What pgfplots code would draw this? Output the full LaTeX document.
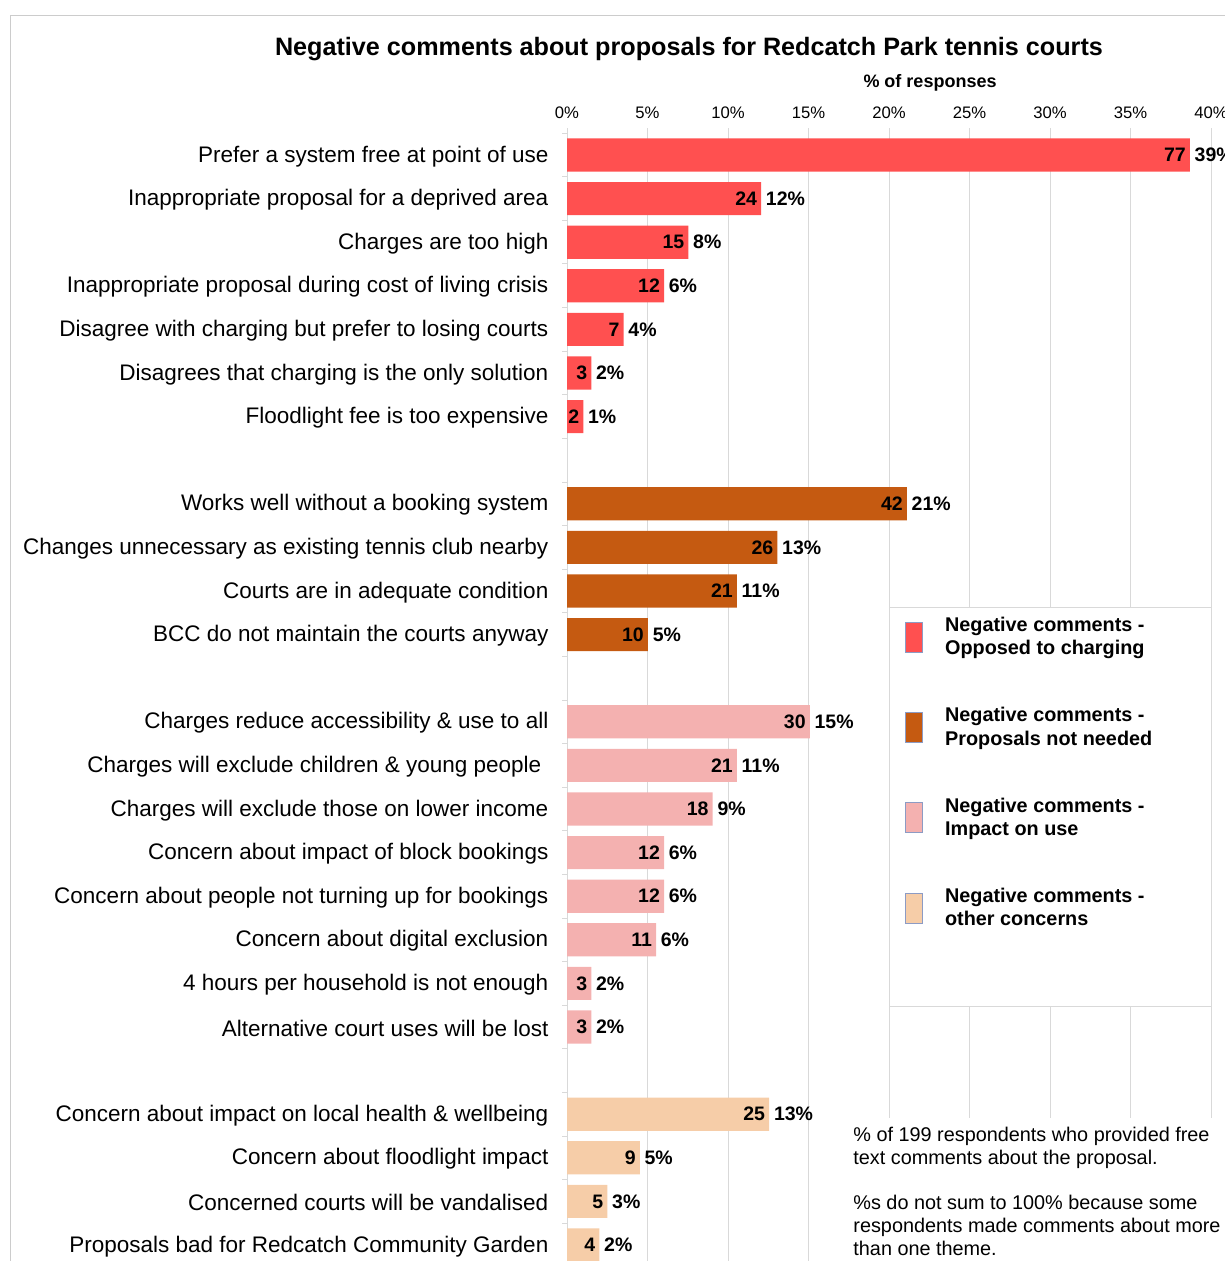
\documentclass[border=0pt]{standalone}
\usepackage{fontspec}
\setmainfont{Liberation Sans}
\usepackage{pgfplots}
\pgfplotsset{compat=1.18}
\usepackage{pgfplotstable}

\definecolor{cOpp}{HTML}{FF5050}
\definecolor{cNot}{HTML}{C55A11}
\definecolor{cUse}{HTML}{F4B1B0}
\definecolor{cOth}{HTML}{F6CDA8}
\definecolor{gridgray}{HTML}{D9D9D9}
\definecolor{framegray}{HTML}{CCCCCC}
\definecolor{legbd}{HTML}{8C9BC4}

% y = row slot (top to bottom), x = % of 199 respondents, n = count, p = rounded %
\pgfplotstableread{
y x n p
1 38.69 77 39
2 12.06 24 12
3 7.54 15 8
4 6.03 12 6
5 3.52 7 4
6 1.51 3 2
7 1.01 2 1
}\tabOpp
\pgfplotstableread{
y x n p
9 21.11 42 21
10 13.07 26 13
11 10.55 21 11
12 5.03 10 5
}\tabNot
\pgfplotstableread{
y x n p
14 15.08 30 15
15 10.55 21 11
16 9.05 18 9
17 6.03 12 6
18 6.03 12 6
19 5.53 11 6
20 1.51 3 2
21 1.51 3 2
}\tabUse
\pgfplotstableread{
y x n p
23 12.56 25 13
24 4.52 9 5
25 2.51 5 3
26 2.01 4 2
}\tabOth

\begin{document}
\begin{tikzpicture}
\useasboundingbox (0,0) rectangle (735pt,756.6pt);
\clip (0,0) rectangle (735pt,756.6pt);
\draw[framegray, line width=0.6pt] (6pt,-10pt) rectangle (760pt,747pt);
\begin{axis}[
  at={(340.2pt,676.68pt)}, anchor=north west,
  scale only axis, width=386.4pt, height=680.16pt,
  xbar, bar shift=0pt, bar width=0.76,
  legend image code/.code={\draw[#1,draw=legbd,line width=0.5pt] (0pt,-9pt) rectangle (10.2pt,9pt);},
  xmin=0, xmax=40, ymin=0.5, ymax=26.5, y dir=reverse,
  enlargelimits=false, clip=false,
  axis x line*=top, axis y line*=left,
  x axis line style={draw=none},
  y axis line style={draw=gridgray, line width=0.6pt},
  xmajorgrids, grid style={gridgray, line width=0.6pt},
  tick align=outside,
  major tick length=3pt, minor tick length=3pt,
  xtick={0,5,...,40},
  xticklabels={0\%,5\%,10\%,15\%,20\%,25\%,30\%,35\%,40\%},
  x tick style={gridgray, line width=0.6pt},
  xticklabel style={font=\fontsize{10}{12}\selectfont, yshift=2pt},
  ytick={1,2,3,4,5,6,7,9,10,11,12,14,15,16,17,18,19,20,21,23,24,25,26},
  yticklabels={
    Prefer a system free at point of use,
    Inappropriate proposal for a deprived area,
    Charges are too high,
    Inappropriate proposal during cost of living crisis,
    Disagree with charging but prefer to losing courts,
    Disagrees that charging is the only solution,
    Floodlight fee is too expensive,
    Works well without a booking system,
    Changes unnecessary as existing tennis club nearby,
    Courts are in adequate condition,
    BCC do not maintain the courts anyway,
    Charges reduce accessibility \& use to all,
    Charges will exclude children \& young people\kern4.2pt,
    Charges will exclude those on lower income,
    Concern about impact of block bookings,
    Concern about people not turning up for bookings,
    Concern about digital exclusion,
    4 hours per household is not enough,
    Alternative court uses will be lost,
    Concern about impact on local health \& wellbeing,
    Concern about floodlight impact,
    Concerned courts will be vandalised,
    Proposals bad for Redcatch Community Garden},
  yticklabel style={font=\fontsize{13.5}{16}\selectfont, inner xsep=0pt, xshift=-8pt, yshift=-0.8pt},
  major y tick style={draw=none},
  minor ytick={0.5,1.5,...,26.5},
  minor y tick style={gridgray, line width=0.6pt},
  /pgf/number format/assume math mode=true,
  title={Negative comments about proposals for Redcatch Park tennis courts},
  title style={at={(axis description cs:0.1894,1)}, anchor=center, yshift=44.5pt,
    font=\bfseries\fontsize{15.1}{18}\selectfont},
  xlabel={\% of responses},
  xlabel style={at={(axis description cs:0.5637,1)}, anchor=center, yshift=30.1pt,
    font=\bfseries\fontsize{10.8}{13}\selectfont},
  point meta=explicit symbolic,
  visualization depends on={\thisrow{p} \as \pct},
  nodes near coords={\llap{\pgfplotspointmeta\hspace{2.7pt}}\hspace{2.7pt}\pgfmathprintnumber[fixed,precision=0]{\pct}\%},
  every node near coord/.append style={anchor=west, inner sep=0pt,
    font=\bfseries\fontsize{11.7}{14}\selectfont, black},
  legend style={draw=none, fill=none, inner sep=0pt, anchor=north west,
    at={(axis cs:20.99,11.59)}, row sep=30.1pt, column sep=13.2pt,
    nodes={inner sep=0pt},
    font=\bfseries\fontsize{11.9}{14}\selectfont},
  legend cell align=left,
  legend style={cells={align=left, anchor=west}},
]
\addplot[fill=cOpp, draw=none] table[x=x, y=y, meta=n] {\tabOpp};
\addplot[fill=cNot, draw=none] table[x=x, y=y, meta=n] {\tabNot};
\addplot[fill=cUse, draw=none] table[x=x, y=y, meta=n] {\tabUse};
\addplot[fill=cOth, draw=none] table[x=x, y=y, meta=n] {\tabOth};
\addlegendentry{Negative comments -\\Opposed to charging}
\addlegendentry{Negative comments -\\Proposals not needed}
\addlegendentry{Negative comments -\\Impact on use}
\addlegendentry{Negative comments -\\other concerns}
% legend box and note area cover the grid
\draw[fill=white, draw=gridgray, line width=0.6pt] (axis cs:20,11.37) rectangle (axis cs:40,20.54);
\fill[white] (axis cs:17.58,23.09) rectangle (axis cs:45,27.5);
\node[anchor=north west, inner sep=0pt, align=left, font=\fontsize{11.9}{13.6}\selectfont]
  at (axis cs:17.77,23.30)
  {\% of 199 respondents who provided free\\text comments about the proposal.\\[13.6pt]\%s do not sum to 100\% because some\\respondents made comments about more\\than one theme.};
\end{axis}
\end{tikzpicture}
\end{document}
